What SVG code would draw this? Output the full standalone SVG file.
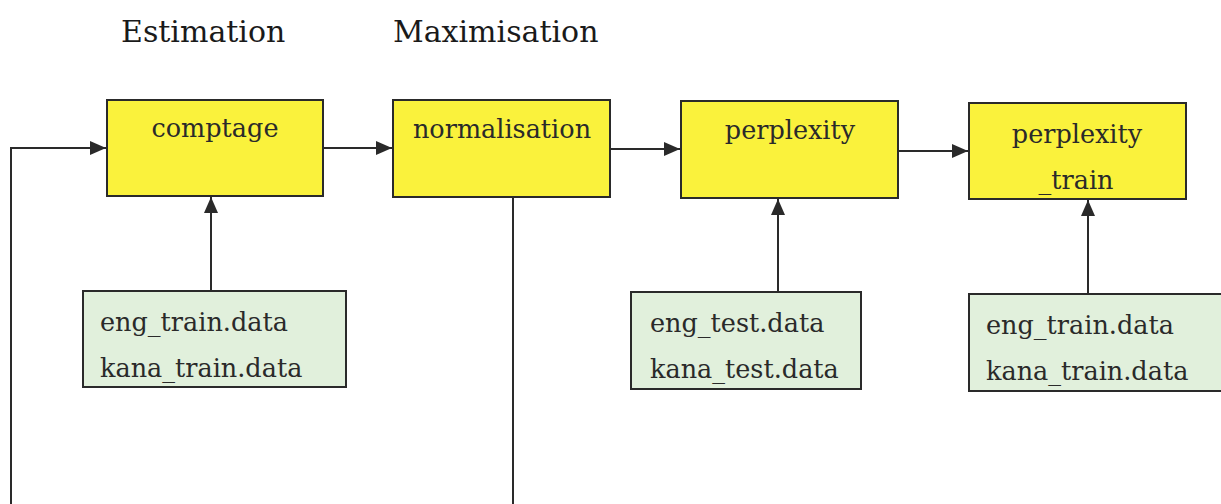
<svg xmlns="http://www.w3.org/2000/svg" width="1221" height="504" viewBox="0 0 1221 504">
<style>
.proc{fill:#FAF23C;stroke:#2a2a2a;stroke-width:2}
.data{fill:#E1F0DC;stroke:#2a2a2a;stroke-width:2}
.t{font-family:"DejaVu Serif","Liberation Serif",serif;font-size:25.5px;fill:#2a2a2a}
.title{font-family:"DejaVu Serif","Liberation Serif",serif;font-size:30px;fill:#1a1a1a}
.c{stroke:#2a2a2a;stroke-width:2;fill:none}
.ca{stroke:#2a2a2a;stroke-width:2;fill:none;marker-end:url(#ah)}
</style>
<defs>
<marker id="ah" viewBox="0 0 16 14" refX="16" refY="7" markerWidth="16" markerHeight="14" markerUnits="userSpaceOnUse" orient="auto">
<path d="M0,0 L16,7 L0,14 Z" fill="#2a2a2a"/>
</marker>
</defs>
<rect width="1221" height="504" fill="#ffffff"/>
<text class="title" x="121" y="42">Estimation</text>
<text class="title" x="393" y="42">Maximisation</text>
<g id="connectors">
<path class="ca" d="M11,504 L11,148 L106,148"/>
<path class="ca" d="M324,148 L392,148"/>
<path class="ca" d="M611,149 L680,149"/>
<path class="ca" d="M899,151 L968,151"/>
<path class="ca" d="M211,291 L211,197"/>
<path class="ca" d="M778,292 L778,199"/>
<path class="ca" d="M1088,294 L1088,200"/>
<path class="c" d="M513,197 L513,504"/>
</g>
<g id="comptage">
<rect class="proc" x="107" y="100" width="216" height="96"/>
<text class="t" x="215" y="137" text-anchor="middle">comptage</text>
</g>
<g id="normalisation">
<rect class="proc" x="393" y="100" width="217" height="97"/>
<text class="t" x="502" y="138" text-anchor="middle">normalisation</text>
</g>
<g id="perplexity">
<rect class="proc" x="681" y="101" width="217" height="97"/>
<text class="t" x="790" y="139" text-anchor="middle">perplexity</text>
</g>
<g id="perplexity_train">
<rect class="proc" x="969" y="103" width="217" height="96"/>
<text class="t" x="1077" y="143" text-anchor="middle">perplexity</text>
<text class="t" x="1076" y="189" text-anchor="middle">_train</text>
</g>
<g id="train_data_1">
<rect class="data" x="83" y="291" width="263" height="96"/>
<text class="t" x="100" y="331">eng_train.data</text>
<text class="t" x="100" y="377">kana_train.data</text>
</g>
<g id="test_data">
<rect class="data" x="631" y="292" width="230" height="97"/>
<text class="t" x="650" y="332">eng_test.data</text>
<text class="t" x="650" y="378">kana_test.data</text>
</g>
<g id="train_data_2">
<rect class="data" x="969" y="294" width="260" height="97"/>
<text class="t" x="986" y="334">eng_train.data</text>
<text class="t" x="986" y="380">kana_train.data</text>
</g>
</svg>
